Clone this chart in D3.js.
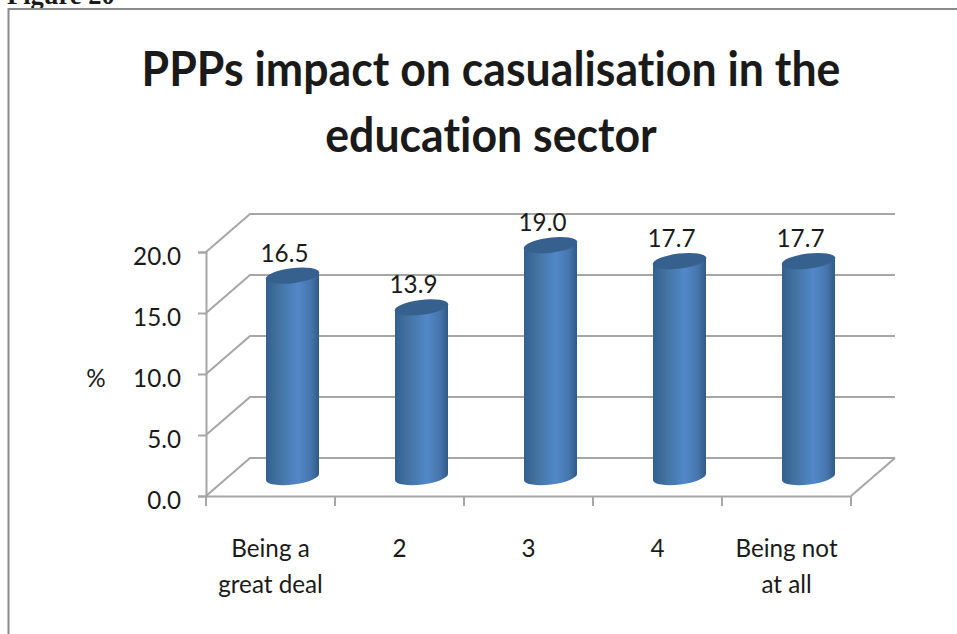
<!DOCTYPE html>
<html>
<head>
<meta charset="utf-8">
<script src="https://cdn.jsdelivr.net/npm/d3@7"></script>
<style>
html, body { margin: 0; padding: 0; background: #fff; overflow: hidden; }
text { font-family: Lato, "Open Sans", sans-serif; fill: #1a1a1a; font-variant-ligatures: none; }
</style>
</head>
<body>
<div id="chart"></div>
<script>
const categories = [["Being a", "great deal"], ["2"], ["3"], ["4"], ["Being not", "at all"]];
const values = [16.5, 13.9, 19.0, 17.7, 17.7];
const yTicks = [0, 5, 10, 15, 20];
const titleLines = ["PPPs impact on casualisation in the", "education sector"];

const width = 957, height = 634;
const depthX = 44, depthY = -38;   // shift from front of the floor to the back wall
const barWidth = 53, capHeight = 15, capTilt = -7;
const labelSize = 25, labelSquash = 0.97;   // the source image is stretched upward

const svg = d3.select("#chart").append("svg").attr("width", width).attr("height", height);

const defs = svg.append("defs");
const grad = defs.append("linearGradient").attr("id", "cyl");
[["0%", "#33608f"], ["22%", "#41719f"], ["60%", "#5288c9"], ["85%", "#4675ab"], ["100%", "#2f5a87"]]
    .forEach(s => grad.append("stop").attr("offset", s[0]).attr("stop-color", s[1]));

// page caption, cut by the top edge, and the chart frame
svg.append("text").text("Figure 20").attr("x", 7).attr("y", 4)
    .style("font-family", "'Liberation Serif', serif").style("font-weight", "bold").style("font-size", "26.5px");
svg.append("path").attr("d", "M8.5,634V9H957").attr("fill", "none").attr("stroke", "#8a8a8a").attr("stroke-width", 2);

svg.append("g").selectAll("text").data(titleLines).join("text")
    .text(d => d)
    .attr("transform", (d, i) => `translate(491,${86 + i * 66}) scale(0.95,1)`)
    .attr("text-anchor", "middle")
    .style("font-weight", "bold")
    .style("font-size", "47px");

const x = d3.scaleBand().domain(d3.range(categories.length)).range([206, 851]);
const y = d3.scaleLinear().domain([0, 20]).range([496, 252]);

// gridlines on the side and back walls
const gridColor = "#a6a6a6";
const grid = svg.append("g").attr("fill", "none").attr("stroke", gridColor).attr("stroke-width", 2);
grid.selectAll("path").data(yTicks).join("path")
    .attr("d", d => `M${x.range()[0]},${y(d)}L${x.range()[0] + depthX},${y(d) + depthY}H${x.range()[1] + depthX}`);
// floor right edge
grid.append("path").attr("d", `M${x.range()[1] + depthX},${y(0) + depthY}L${x.range()[1]},${y(0)}`);

// axes
const yAxis = d3.axisLeft(y).tickValues(yTicks).tickSize(8).tickFormat(d3.format(".1f"));
const xAxis = d3.axisBottom(x).tickValues([]).tickSizeOuter(0);
const yG = svg.append("g").attr("transform", `translate(${x.range()[0]},0)`).call(yAxis);
const xG = svg.append("g").attr("transform", `translate(0,${y(0)})`).call(xAxis);
xG.selectAll(".tick").data(d3.range(categories.length + 1)).join("line")
    .attr("x1", d => x.range()[0] + d * x.bandwidth()).attr("x2", d => x.range()[0] + d * x.bandwidth())
    .attr("y1", 0).attr("y2", 10)
    .attr("stroke", gridColor).attr("stroke-width", 2);
svg.selectAll(".domain").attr("stroke", gridColor).attr("stroke-width", 2);
yG.selectAll("line").attr("stroke", gridColor).attr("stroke-width", 2);
yG.attr("font-family", null);
yG.selectAll("text")
    .attr("dy", null)
    .attr("text-anchor", "end")
    .attr("x", null)
    .attr("transform", `translate(-25,12) scale(${labelSquash},1)`)
    .attr("fill", "#1a1a1a")
    .style("font-size", labelSize + "px");

// cylinders
const barX = i => x(i) + x.bandwidth() / 2 + depthX / 2 - barWidth / 2;
const baseY = y(0) + depthY / 2;
const yLen = v => y(0) - y(v);

const bars = svg.append("g").selectAll("g").data(values).join("g");
bars.append("path")
    .attr("fill", "url(#cyl)")
    .attr("d", (d, i) => {
        const rx = barWidth / 2, ry = capHeight / 2, l = barX(i), r = l + barWidth;
        const dy = barWidth / 2 * Math.tan(-capTilt * Math.PI / 180);
        const top = baseY - yLen(d);
        return `M${l},${top + dy}L${l},${baseY + dy}A${rx},${ry} ${capTilt} 0 0 ${r},${baseY - dy}L${r},${top - dy}Z`;
    });
bars.append("ellipse")
    .attr("rx", barWidth / 2 + 0.5).attr("ry", capHeight / 2)
    .attr("fill", "#36618f")
    .attr("transform", (d, i) => `translate(${barX(i) + barWidth / 2},${baseY - yLen(d)}) rotate(${capTilt})`);

// value labels
svg.append("g").selectAll("text").data(values).join("text")
    .text(d => d3.format(".1f")(d))
    .attr("transform", (d, i) => `translate(${barX(i) + barWidth / 2 - 8},${baseY - yLen(d) - 14}) scale(${labelSquash},1)`)
    .attr("text-anchor", "middle")
    .style("font-size", labelSize + "px");

// category labels
const catG = svg.append("g").selectAll("g").data(categories).join("g")
    .attr("transform", (d, i) => `translate(${x(i) + x.bandwidth() / 2},0)`);
catG.selectAll("text").data(d => d).join("text")
    .text(d => d)
    .attr("transform", (d, i) => `translate(0,${557 + i * 36}) scale(${labelSquash},1)`)
    .attr("text-anchor", "middle")
    .style("font-size", labelSize + "px");

// axis title
svg.append("text").text("%")
    .attr("transform", `translate(96,387) scale(${labelSquash},1)`)
    .attr("text-anchor", "middle")
    .style("font-size", labelSize + "px");
</script>
</body>
</html>
